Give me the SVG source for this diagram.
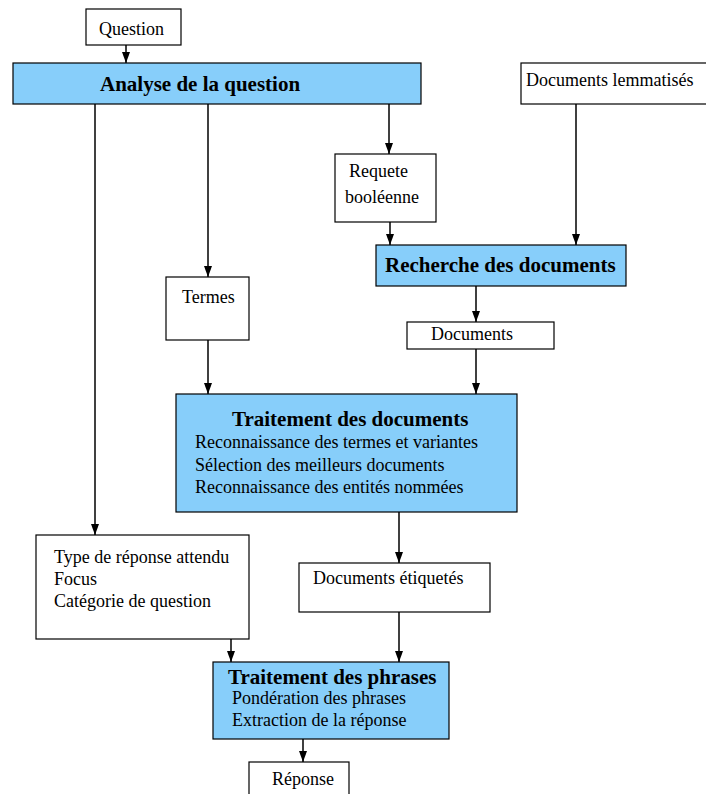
<svg xmlns="http://www.w3.org/2000/svg" width="706" height="794" viewBox="0 0 706 794">
<style>
.box{fill:#fff;stroke:#000;stroke-width:1.2}
.blue{fill:#87cefa;stroke:#000;stroke-width:1.2}
text{font-family:"Liberation Serif","Times New Roman",serif;fill:#000}
.t{font-size:18px}
.b{font-size:21px;font-weight:bold}
.c{stroke:#000;stroke-width:1.5;fill:none;marker-end:url(#ah)}
</style>
<defs>
<marker id="ah" markerWidth="11" markerHeight="8" refX="11" refY="4" orient="auto" markerUnits="userSpaceOnUse" viewBox="0 0 11 8">
<path d="M0,0 L11,4 L0,8 z" fill="#000"/>
</marker>
</defs>
<rect width="706" height="794" fill="#fff"/>
<g id="connectors">
<line class="c" x1="126" y1="45" x2="126" y2="63"/>
<line class="c" x1="95" y1="104" x2="95" y2="535"/>
<line class="c" x1="208" y1="104" x2="208" y2="277"/>
<line class="c" x1="389" y1="104" x2="389" y2="154"/>
<line class="c" x1="390" y1="222" x2="390" y2="245"/>
<line class="c" x1="576" y1="104" x2="576" y2="245"/>
<line class="c" x1="476" y1="286" x2="476" y2="322"/>
<line class="c" x1="476" y1="349" x2="476" y2="394"/>
<line class="c" x1="208" y1="340" x2="208" y2="394"/>
<line class="c" x1="399" y1="512" x2="399" y2="563"/>
<line class="c" x1="399" y1="612" x2="399" y2="662"/>
<line class="c" x1="231" y1="639" x2="231" y2="662"/>
<line class="c" x1="303" y1="739" x2="303" y2="762"/>
</g>
<g id="question"><rect class="box" x="86" y="9" width="95" height="36"/><text class="t" x="99" y="35">Question</text></g>
<g id="analyse"><rect class="blue" x="13" y="63" width="408" height="41"/><text class="b" x="100" y="91">Analyse de la question</text></g>
<g id="lemmatises"><rect class="box" x="521" y="63" width="190" height="41"/><text class="t" x="526" y="86">Documents lemmatisés</text></g>
<g id="requete"><rect class="box" x="335" y="154" width="101" height="68"/><text class="t" x="349" y="177">Requete</text><text class="t" x="345" y="203">booléenne</text></g>
<g id="recherche"><rect class="blue" x="376" y="245" width="250" height="41"/><text class="b" x="385" y="272">Recherche des documents</text></g>
<g id="termes"><rect class="box" x="166" y="277" width="83" height="63"/><text class="t" x="182" y="303">Termes</text></g>
<g id="documents"><rect class="box" x="407" y="322" width="147" height="27"/><text class="t" x="431" y="340">Documents</text></g>
<g id="traitement-docs"><rect class="blue" x="176" y="394" width="341" height="118"/>
<text class="b" x="232" y="426">Traitement des documents</text>
<text class="t" x="195" y="448">Reconnaissance des termes et variantes</text>
<text class="t" x="195" y="471">Sélection des meilleurs documents</text>
<text class="t" x="195" y="493">Reconnaissance des entités nommées</text></g>
<g id="type"><rect class="box" x="36" y="535" width="213" height="104"/>
<text class="t" x="54" y="563">Type de réponse attendu</text>
<text class="t" x="54" y="585">Focus</text>
<text class="t" x="54" y="607">Catégorie de question</text></g>
<g id="etiquetes"><rect class="box" x="299" y="563" width="191" height="49"/><text class="t" x="313" y="584">Documents étiquetés</text></g>
<g id="traitement-phrases"><rect class="blue" x="213" y="662" width="236" height="77"/>
<text class="b" x="228" y="684">Traitement des phrases</text>
<text class="t" x="232" y="704">Pondération des phrases</text>
<text class="t" x="232" y="726">Extraction de la réponse</text></g>
<g id="reponse"><rect class="box" x="249" y="762" width="100" height="40"/><text class="t" x="272" y="785">Réponse</text></g>
</svg>
